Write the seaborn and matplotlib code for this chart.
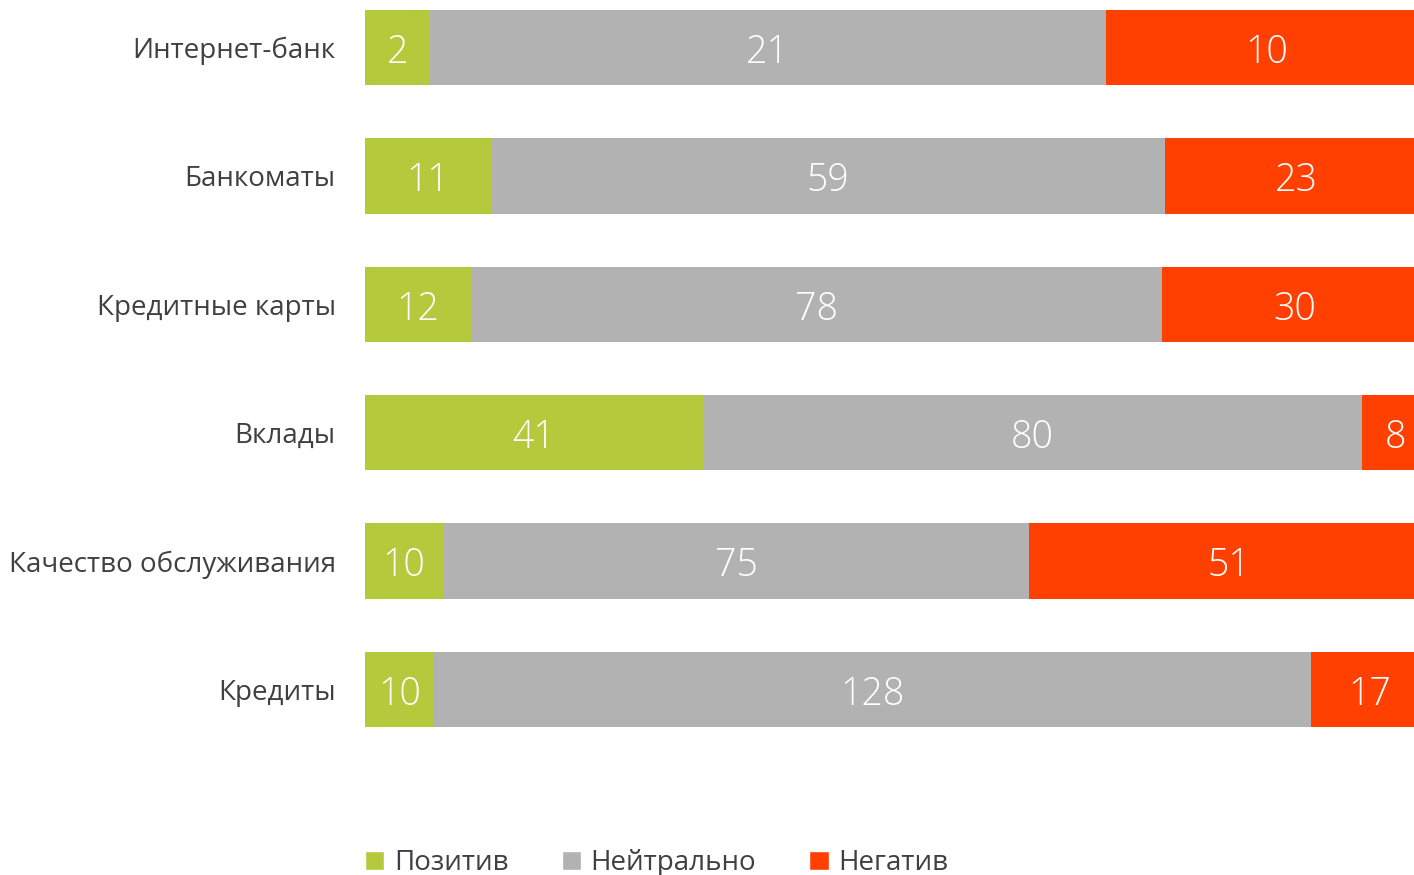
import pandas as pd
import numpy as np
import matplotlib.pyplot as plt
import seaborn as sns
from matplotlib.patches import Patch

# --- данные ---
categories = ["Интернет-банк", "Банкоматы", "Кредитные карты", "Вклады",
              "Качество обслуживания", "Кредиты"]
positive = [2, 11, 12, 41, 10, 10]
neutral = [21, 59, 78, 80, 75, 128]
negative = [10, 23, 30, 8, 51, 17]
series_names = ["Позитив", "Нейтрально", "Негатив"]
colors = ["#b5c93c", "#b2b2b2", "#ff4000"]

df = pd.DataFrame({"cat": categories, "pos": positive, "neu": neutral, "neg": negative})
df["total"] = df["pos"] + df["neu"] + df["neg"]
df["s_pos"] = df["pos"] / df["total"]
df["s_posneu"] = (df["pos"] + df["neu"]) / df["total"]
df["s_all"] = 1.0

sns.set_theme(style="white")
plt.rcParams["font.family"] = ["Open Sans", "DejaVu Sans"]

fig = plt.figure(figsize=(14.14, 8.75), dpi=100)
# область графика чуть шире холста: правый край обрезан, как в оригинале
ax = fig.add_axes([365 / 1414, 1 - 727 / 875, 1063 / 1414, (727 - 10) / 875])

bw = 75 / 128
# накопленные столбцы, рисуем от полного к частичному
for col, c in zip(["s_all", "s_posneu", "s_pos"], colors[::-1]):
    sns.barplot(data=df, x=col, y="cat", color=c, width=bw, saturation=1,
                orient="h", ax=ax, linewidth=0)

# подписи значений по центру сегмента
for i, row in df.iterrows():
    starts = [0, row["s_pos"], row["s_posneu"]]
    ends = [row["s_pos"], row["s_posneu"], 1.0]
    vals = [row["pos"], row["neu"], row["neg"]]
    for s, e, v in zip(starts, ends, vals):
        ax.text((s + e) / 2, i + 0.04, str(v), ha="center", va="center",
                color="white", fontsize=27, fontweight="light")

ax.set_xlim(0, 1)
ax.set_ylim(len(categories) - 1 + bw / 2, -bw / 2)
ax.set_xlabel("")
ax.set_ylabel("")
ax.set_xticks([])
ax.tick_params(axis="y", length=0, pad=21, labelsize=20, labelcolor="#404040")
sns.despine(ax=ax, left=True, bottom=True)

handles = [Patch(facecolor=c, label=n) for c, n in zip(colors, series_names)]
fig.legend(handles=handles, loc="center left", bbox_to_anchor=(340 / 1414, 1 - 863 / 875),
           ncol=3, frameon=False, fontsize=20, labelcolor="#404040",
           handlelength=0.7, handleheight=0.7, handletextpad=0.35, columnspacing=1.9)

fig.savefig("out.png", dpi=100)
